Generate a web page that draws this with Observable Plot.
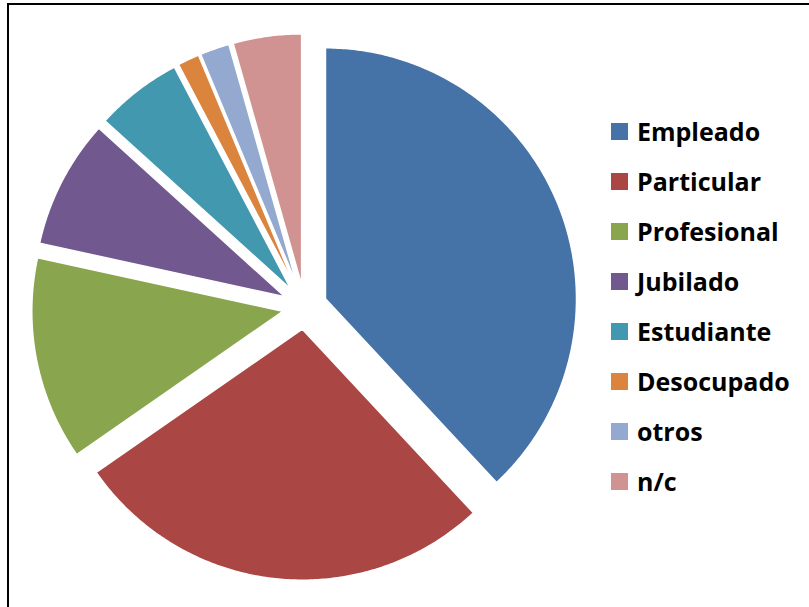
<!DOCTYPE html>
<html>
<head>
<meta charset="utf-8">
<script src="https://cdn.jsdelivr.net/npm/d3@7"></script>
<script src="https://cdn.jsdelivr.net/npm/@observablehq/plot@0.6"></script>
<style>
  html, body { margin: 0; padding: 0; background: #fff; }
  #wrap { position: relative; width: 809px; height: 607px; overflow: hidden; }
  #border { position: absolute; left: 7px; top: 3px; width: 1000px; height: 1000px;
            border-left: 2px solid #000; border-top: 2px solid #000; }
  #chart { position: absolute; left: 0; top: 0; }
  #legend { position: absolute; left: 611px; top: 106px; font-family: "Open Sans", Lato, sans-serif;
            font-weight: bold; font-size: 25px; color: #000; }
  .item { display: flex; align-items: center; height: 50px; }
  .sw { width: 17px; height: 17px; margin-right: 9px; flex: none; }
</style>
</head>
<body>
<div id="wrap">
  <div id="border"></div>
  <div id="chart"></div>
  <div id="legend"></div>
</div>
<script>
const categories = ["Empleado", "Particular", "Profesional", "Jubilado", "Estudiante", "Desocupado", "otros", "n/c"];
const values = [38.1, 27.3, 13.1, 8.3, 5.6, 1.4, 1.9, 4.4];
const colors = ["#4572A7", "#AA4643", "#89A54E", "#71588F", "#4198AF", "#DB843D", "#93A9CF", "#D19392"];

const explode = 0.089; // relative to radius
const total = d3.sum(values);
const pts = [];
let acc = 0;
values.forEach((v, i) => {
  const a0 = acc / total * 2 * Math.PI;
  acc += v;
  const a1 = acc / total * 2 * Math.PI;
  const m = (a0 + a1) / 2;
  const ox = explode * Math.sin(m), oy = explode * Math.cos(m);
  const name = categories[i];
  pts.push({name, x: ox, y: oy});
  const n = Math.max(2, Math.ceil((a1 - a0) / 0.01));
  for (let k = 0; k <= n; k++) {
    const a = a0 + (a1 - a0) * k / n;
    pts.push({name, x: ox + Math.sin(a), y: oy + Math.cos(a)});
  }
  pts.push({name, x: ox, y: oy});
});

const W = 809, H = 607, cx = 304.2, cy = 306.5, R = 251;
const chart = Plot.plot({
  width: W, height: H,
  margin: 0,
  x: {domain: [-cx / R, (W - cx) / R], range: [0, W], axis: null},
  y: {domain: [-(H - cy) / R, cy / R], range: [H, 0], axis: null},
  color: {domain: categories, range: colors},
  marks: [
    Plot.line(pts, {x: "x", y: "y", z: "name", fill: "name", stroke: "#fff", strokeWidth: 1.5, curve: "linear"})
  ]
});
document.getElementById("chart").appendChild(chart);

const legend = document.getElementById("legend");
categories.forEach((c, i) => {
  const it = document.createElement("div");
  it.className = "item";
  const sw = document.createElement("div");
  sw.className = "sw";
  sw.style.background = colors[i];
  const t = document.createElement("span");
  t.textContent = c;
  it.appendChild(sw); it.appendChild(t);
  legend.appendChild(it);
});
</script>
</body>
</html>
